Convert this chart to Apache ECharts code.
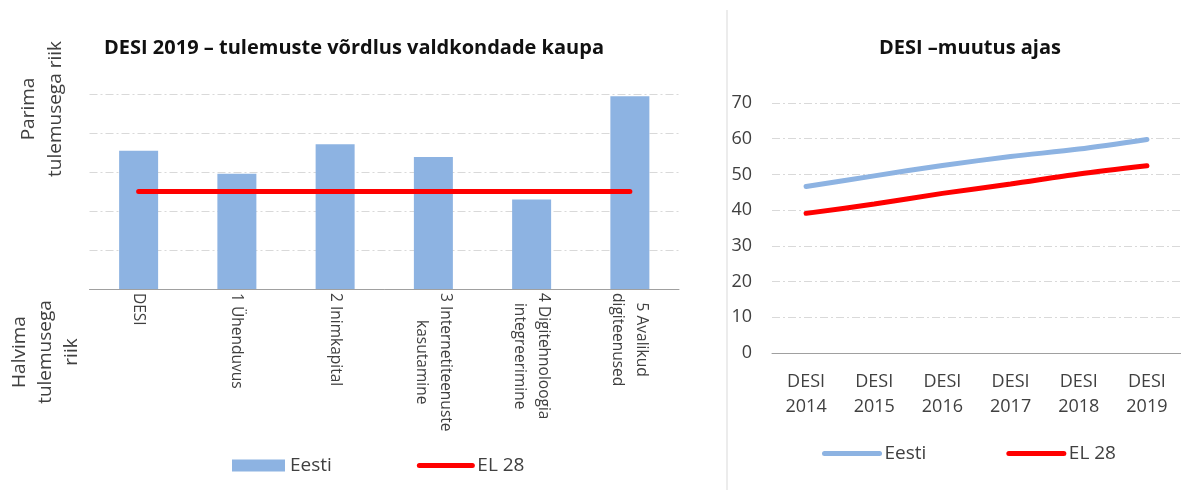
<!DOCTYPE html>
<html>
<head>
<meta charset="utf-8">
<script src="https://cdn.jsdelivr.net/npm/echarts@6/dist/echarts.min.js"></script>
<style>
    html, body { margin: 0; padding: 0; background: #fff; }
    #chart { width: 1181px; height: 492px; }
</style>
</head>
<body>
<div id="chart"></div>
<script>
const areaNames = ['DESI', '1 Ühenduvus', '2 Inimkapital', '3 Internetiteenuste\nkasutamine',
    '4 Digitehnoloogia\nintegreerimine', '5 Avalikud\ndigiteenused'];
const eestiArea = [70.9, 59.1, 74.2, 67.7, 45.9, 98.8];
const euArea = [50, 50, 50, 50, 50, 50];

const years = ['DESI\n2014', 'DESI\n2015', 'DESI\n2016', 'DESI\n2017', 'DESI\n2018', 'DESI\n2019'];
const eestiTrend = [46.6, 49.6, 52.5, 55.0, 57.1, 59.8];
const euTrend = [39.1, 41.7, 44.7, 47.3, 50.1, 52.4];
const trendTicks = [0, 10, 20, 30, 40, 50, 60, 70];

const font = 'Open Sans';
const blue = '#8DB3E2';
const red = '#FF0000';
const gridLine = {color: '#D9D9D9', width: 1, type: [8, 3, 2, 3]};
const axisGray = '#A0A0A0';

// legend entry for a line series: thick line, no marker
function lineLegend(name, color) {
    return {
        name: name,
        itemStyle: {opacity: 0},
        lineStyle: {color: color, width: 5, cap: 'round'}
    };
}

let myChart = echarts.init(document.getElementById('chart'));

let option = {
    animation: false,
    textStyle: {fontFamily: font},
    title: [
        {
            text: 'DESI 2019 – tulemuste võrdlus valdkondade kaupa',
            left: 349, top: 33, textAlign: 'center',
            textStyle: {fontFamily: font, fontSize: 20, fontWeight: 'bold', color: '#111'}
        },
        {
            text: 'DESI –muutus ajas',
            left: 965, top: 33, textAlign: 'center',
            textStyle: {fontFamily: font, fontSize: 20, fontWeight: 'bold', color: '#111'}
        }
    ],
    legend: [
        {
            data: [{name: 'Eesti', icon: 'rect'}, lineLegend('EL 28', red)],
            left: 227, top: 451,
            itemWidth: 53, itemHeight: 12, itemGap: 85,
            textStyle: {fontFamily: font, fontSize: 19, color: '#404040'}
        },
        {
            data: [lineLegend('Eesti ', blue), lineLegend('EL 28 ', red)],
            left: 817, top: 439,
            itemWidth: 55, itemHeight: 12, itemGap: 80,
            formatter: name => name.trim(),
            textStyle: {fontFamily: font, fontSize: 19, color: '#404040'}
        }
    ],
    grid: [
        {left: 89.5, right: 502, top: 94, bottom: 203},
        {left: 772, right: -11, top: 103, bottom: 139}
    ],
    xAxis: [
        {
            type: 'category', gridIndex: 0, data: areaNames,
            axisLine: {lineStyle: {color: axisGray}},
            axisTick: {length: 6, lineStyle: {color: axisGray}},
            axisLabel: {
                rotate: -90, margin: 4, interval: 0,
                formatter: v => v.split('\n').map(s => '{c|' + s + '}').join('\n'),
                rich: {c: {align: 'center', fontFamily: font, fontSize: 15.5, lineHeight: 24, color: '#404040'}}
            }
        },
        {
            type: 'category', gridIndex: 1, data: years,
            axisLine: {lineStyle: {color: axisGray}},
            axisTick: {length: 6, lineStyle: {color: axisGray}},
            axisLabel: {margin: 16, interval: 0, fontFamily: font, fontSize: 18, lineHeight: 25, color: '#404040'}
        }
    ],
    yAxis: [
        {
            type: 'value', gridIndex: 0, min: 0, max: 100, interval: 20,
            axisLine: {show: false}, axisTick: {show: false}, axisLabel: {show: false},
            splitLine: {lineStyle: gridLine}
        },
        {
            type: 'value', gridIndex: 1, min: trendTicks[0], max: trendTicks[trendTicks.length - 1], interval: 10,
            axisLine: {show: false}, axisTick: {show: false},
            axisLabel: {margin: 20, fontFamily: font, fontSize: 18, color: '#404040'},
            splitLine: {lineStyle: gridLine}
        }
    ],
    series: [
        {
            name: 'Eesti', type: 'bar', xAxisIndex: 0, yAxisIndex: 0,
            data: eestiArea, barWidth: 39,
            itemStyle: {color: blue}
        },
        {
            name: 'EL 28', type: 'line', xAxisIndex: 0, yAxisIndex: 0,
            data: euArea, symbol: 'none',
            lineStyle: {color: red, width: 5, cap: 'round'},
            itemStyle: {color: red}
        },
        {
            name: 'Eesti ', type: 'line', xAxisIndex: 1, yAxisIndex: 1,
            data: eestiTrend, symbol: 'none', smooth: 0.3,
            lineStyle: {color: blue, width: 5, cap: 'round'},
            itemStyle: {color: blue}
        },
        {
            name: 'EL 28 ', type: 'line', xAxisIndex: 1, yAxisIndex: 1,
            data: euTrend, symbol: 'none', smooth: 0.3,
            lineStyle: {color: red, width: 5, cap: 'round'},
            itemStyle: {color: red}
        }
    ],
    graphic: [
        {
            type: 'line', shape: {x1: 727, y1: 10, x2: 727, y2: 490},
            style: {stroke: '#D9D9D9', lineWidth: 1}
        },
        {
            type: 'text', x: 42, y: 109, rotation: Math.PI / 2,
            style: {
                text: 'Parima\ntulemusega riik', fontFamily: font, fontSize: 19, lineHeight: 27,
                fill: '#404040', align: 'center', verticalAlign: 'middle'
            }
        },
        {
            type: 'text', x: 46, y: 352, rotation: Math.PI / 2,
            style: {
                text: 'Halvima\ntulemusega\nriik', fontFamily: font, fontSize: 19, lineHeight: 26,
                fill: '#404040', align: 'center', verticalAlign: 'middle'
            }
        }
    ]
};
myChart.setOption(option);
</script>
</body>
</html>
